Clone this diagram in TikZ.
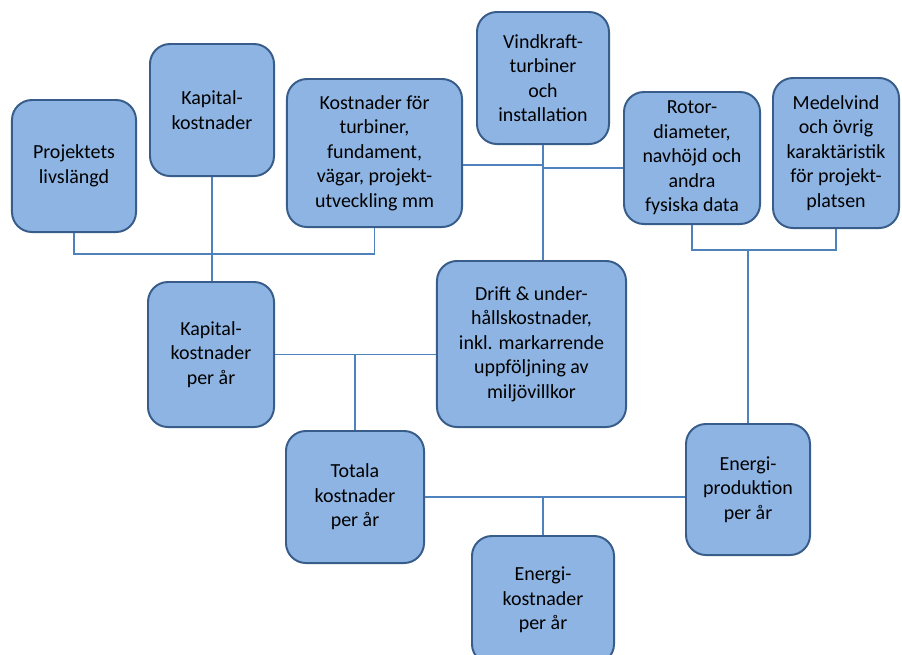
\documentclass[tikz,border=0pt]{standalone}
\usepackage{fontspec}
\setmainfont{Carlito}
\usepackage{xcolor}
\definecolor{boxfill}{RGB}{141,180,226}
\definecolor{boxline}{RGB}{56,93,138}
\definecolor{linkcolor}{RGB}{79,129,189}

\begin{document}
\begin{tikzpicture}[
    x=0.025cm, y=-0.025cm,
    box/.style={rectangle, rounded corners=0.5cm, draw=boxline, line width=1.4pt, fill=boxfill,
      align=center, inner sep=2pt, font=\fontsize{14.2}{17.4}\selectfont},
    link/.style={draw=linkcolor, line width=0.8pt}
]
\clip (0,0) rectangle (902,654);

\node[box, minimum width=3.1cm, minimum height=3.3cm] (proj) at (74,166) {Projektets\\livslängd};
\node[box, minimum width=3.1cm, minimum height=3.3cm] (kap) at (212,110) {Kapital-\\kostnader};
\node[box, minimum width=4.375cm, minimum height=3.7cm] (kost) at (374.5,153) {Kostnader för\\turbiner,\\fundament,\\vägar, projekt-\\utveckling mm};
\node[box, minimum width=3.3cm, minimum height=3.3cm] (vind) at (543,78) {Vindkraft-\\turbiner\\och\\installation};
\node[box, minimum width=3.4cm, minimum height=3.3cm] (rotor) at (692,158) {Rotor-\\diameter,\\navhöjd och\\andra\\fysiska data};
\node[box, minimum width=3.15cm, minimum height=3.75cm] (medel) at (836,153) {Medelvind\\och övrig\\karaktäristik\\för projekt-\\platsen};
\node[box, minimum width=3.15cm, minimum height=3.625cm] (kapar) at (211,354.5) {Kapital-\\kostnader\\per år};
\node[box, minimum width=4.725cm, minimum height=4.15cm] (drift) at (531.5,344) {Drift \& under-\\hållskostnader,\\inkl. markarrende\\uppföljning av\\miljövillkor};
\node[box, minimum width=3.45cm, minimum height=3.3cm] (totala) at (355,497) {Totala\\kostnader\\per år};
\node[box, minimum width=3.1cm, minimum height=3.275cm] (eprod) at (748,489.5) {Energi-\\produktion\\per år};
\node[box, minimum width=3.55cm, minimum height=3.2cm] (ekost) at (543,600) {Energi-\\kostnader\\per år};

% top level
\draw[link] (proj.south) -- ++(0,21) -| (kost.south);
\draw[link] (kap.south) -- (kap.south |- kapar.north);
\coordinate (jv) at (543,165);
\coordinate (jr) at (543,168);
\draw[link] (jv -| kost.east) -- (jv);
\draw[link] (jr) -- (jr -| rotor.west);
\draw[link] (vind.south) -- (vind.south |- drift.north);
\draw[link] (rotor.south) -- ++(0,25) coordinate (jm) -| (medel.south);
\draw[link] (eprod.north) -- (eprod.north |- jm);

% lower level
\draw[link] (kapar.east) -- (drift.west |- kapar.east);
\draw[link] (totala.north) -- (totala.north |- kapar.east);
\draw[link] (totala.east) -- (totala.east -| eprod.west);
\draw[link] (ekost.north) -- (ekost.north |- totala.east);
\end{tikzpicture}
\end{document}
